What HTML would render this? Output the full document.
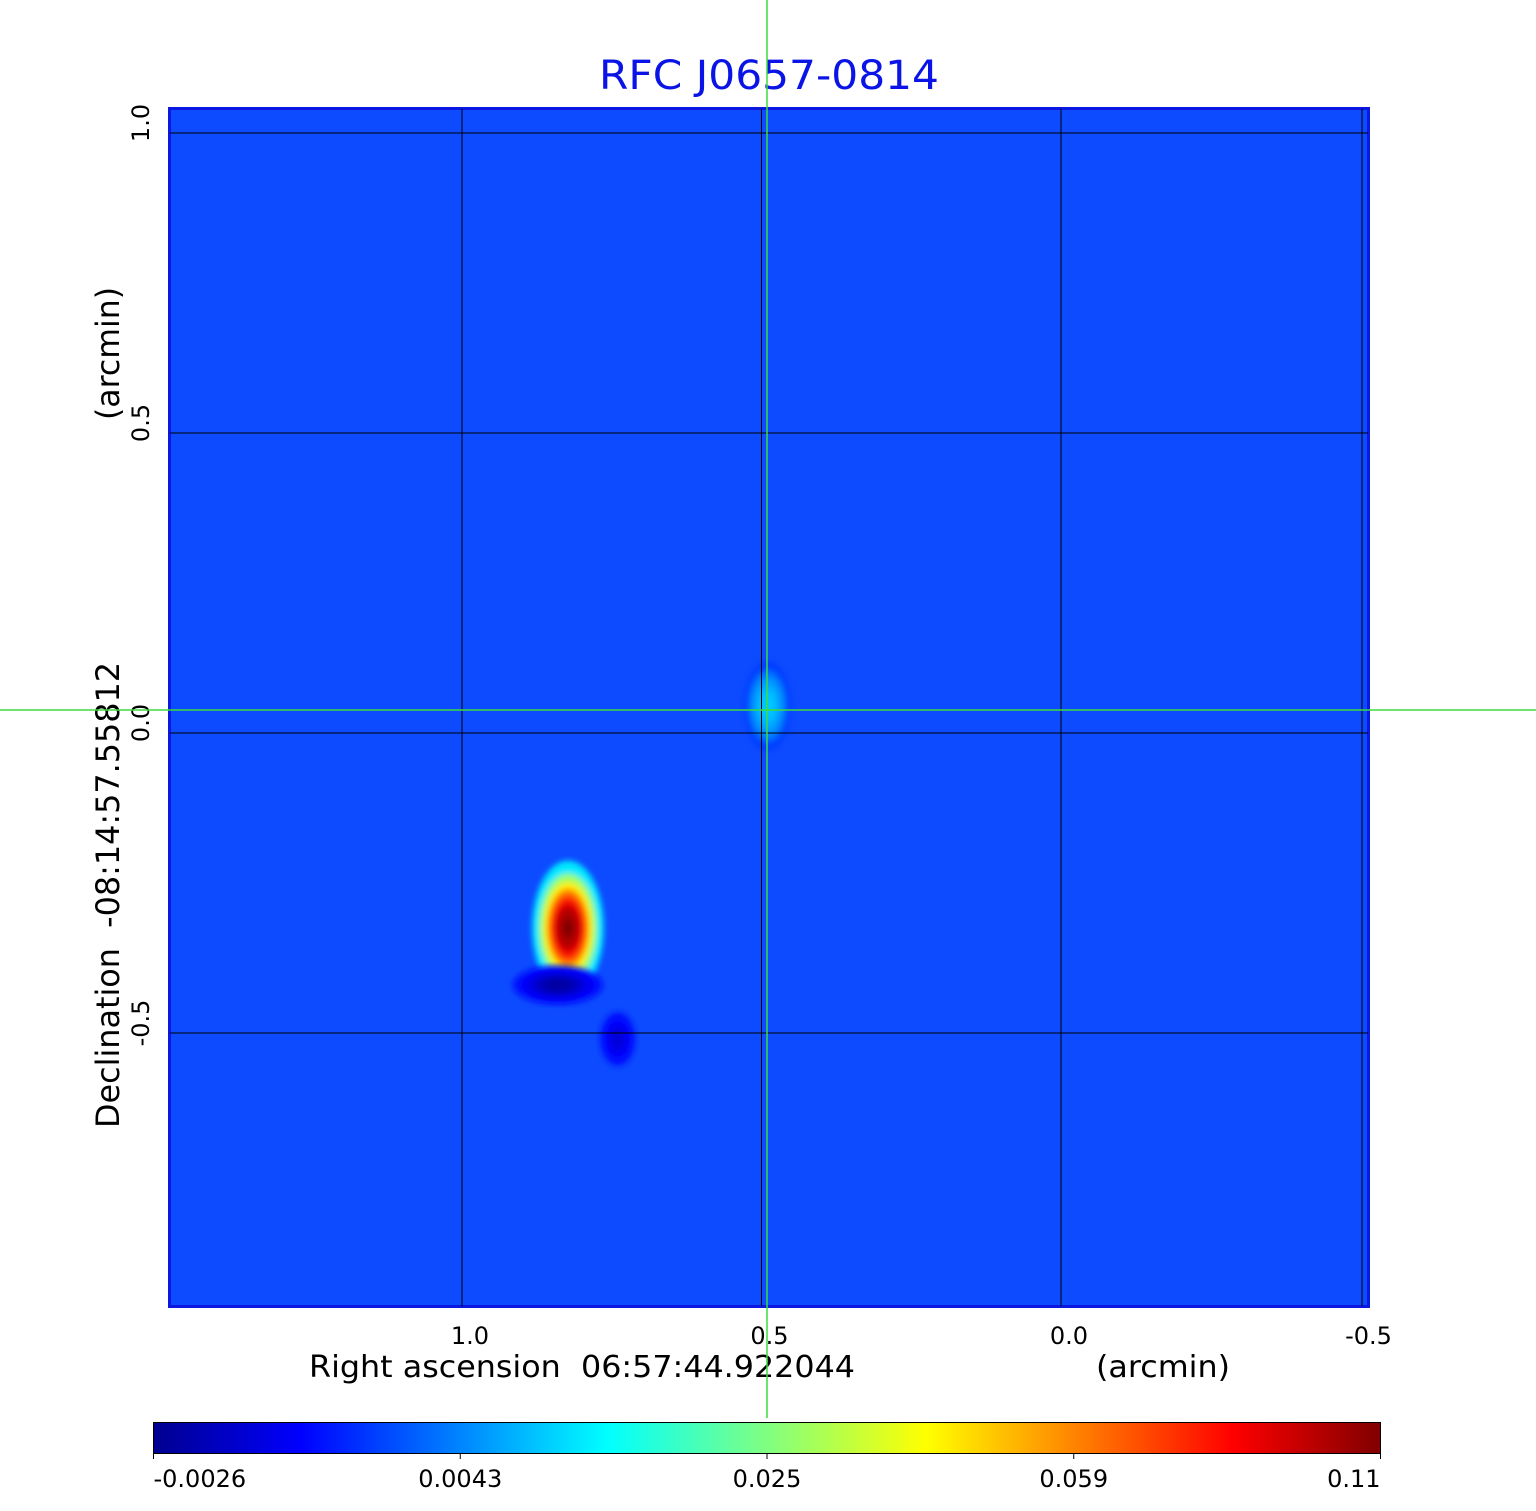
<!DOCTYPE html>
<html><head><meta charset="utf-8"><style>
html,body{margin:0;padding:0;background:#fff;}
svg{display:block;font-family:"DejaVu Sans","Liberation Sans",sans-serif;}
text{white-space:pre;}
</style></head><body>
<svg id="chart" width="1536" height="1511" viewBox="0 0 1536 1511" xmlns="http://www.w3.org/2000/svg" xml:space="preserve">
<defs>
<linearGradient id="jet" x1="0" x2="1" y1="0" y2="0">
<stop offset="0" stop-color="#00008f"/>
<stop offset="0.12" stop-color="#0000ff"/>
<stop offset="0.37" stop-color="#00ffff"/>
<stop offset="0.5" stop-color="#80ff80"/>
<stop offset="0.63" stop-color="#ffff00"/>
<stop offset="0.88" stop-color="#ff0000"/>
<stop offset="1" stop-color="#800000"/>
</linearGradient>
<clipPath id="plotclip"><rect x="170" y="109" width="1198" height="1197"/></clipPath>
<filter id="blur"><feGaussianBlur stdDeviation="3"/></filter>
</defs>
<text x="769" y="89" text-anchor="middle" font-size="40" fill="#0a14e6" textLength="340" lengthAdjust="spacingAndGlyphs">RFC J0657-0814</text>
<rect x="169.5" y="108.5" width="1199" height="1198" fill="#0c4bff" stroke="#0a18e0" stroke-width="3"/>
<g id="marks" clip-path="url(#plotclip)"></g>
<g id="grid"></g>
<g id="ticks"></g>
<text x="309" y="1377" font-size="30" textLength="546" lengthAdjust="spacingAndGlyphs">Right ascension  06:57:44.922044</text>
<text x="1096" y="1377" font-size="30" textLength="134" lengthAdjust="spacingAndGlyphs">(arcmin)</text>
<text transform="translate(119,1128) rotate(-90)" font-size="32" textLength="466" lengthAdjust="spacingAndGlyphs">Declination  -08:14:57.55812</text>
<text transform="translate(119,420) rotate(-90)" font-size="32" textLength="133" lengthAdjust="spacingAndGlyphs">(arcmin)</text>
<rect x="153.5" y="1422.5" width="1227" height="31" fill="url(#jet)" stroke="#000" stroke-width="1"/>
<g id="cbticks"></g>
<line x1="767" y1="0" x2="767" y2="1418" stroke="#3ddc3d" stroke-width="1.5"/>
<line x1="0" y1="710" x2="1536" y2="710" stroke="#3ddc3d" stroke-width="1.5"/>
</svg>
<script>
const xTicks = [1.0, 0.5, 0.0, -0.5];
const xTickLabels = ["1.0", "0.5", "0.0", "-0.5"];
const yTicks = [1.0, 0.5, 0.0, -0.5];
const yTickLabels = ["1.0", "0.5", "0.0", "-0.5"];
const cbTicks = [-0.0026, 0.0043, 0.025, 0.059, 0.11];
const cbTickLabels = ["-0.0026", "0.0043", "0.025", "0.059", "0.11"];
const srcRA = [0.823, 0.49, 0.84, 0.74];
const srcDec = [-0.325, 0.045, -0.42, -0.51];
const srcPeak = [0.11, 0.010, -0.0022, -0.0005];
const srcSigRA = [0.024, 0.016, 0.03, 0.012];
const srcSigDec = [0.045, 0.03, 0.013, 0.018];

const NS = "http://www.w3.org/2000/svg";
function xScale(ra){ return 1061 + (0 - ra) * 599; }
function yScale(d){ return 733 - d * 600; }
function cbPos(v){
  for (let i = 0; i < cbTicks.length - 1; i++) {
    if (v <= cbTicks[i+1] || i === cbTicks.length - 2) {
      const t = (v - cbTicks[i]) / (cbTicks[i+1] - cbTicks[i]);
      return Math.max(0, Math.min(1, (i + t) / (cbTicks.length - 1)));
    }
  }
  return 0;
}
const jetStops = [[0,[0,0,143]],[0.12,[0,0,255]],[0.37,[0,255,255]],[0.5,[128,255,128]],[0.63,[255,255,0]],[0.88,[255,0,0]],[1,[128,0,0]]];
function jet(p){
  for (let i = 0; i < jetStops.length - 1; i++) {
    const a = jetStops[i], b = jetStops[i+1];
    if (p <= b[0]) {
      const t = (p - a[0]) / (b[0] - a[0]);
      return "rgb(" + a[1].map((c,k)=>Math.round(c + (b[1][k]-c)*t)).join(",") + ")";
    }
  }
  return "rgb(128,0,0)";
}
function mk(tag, attrs, parent){
  const el = document.createElementNS(NS, tag);
  for (const k in attrs) el.setAttribute(k, attrs[k]);
  parent.appendChild(el);
  return el;
}
const bg = 0.0015;
const marks = document.getElementById("marks");
const fracs = [0.1, 0.25, 0.4, 0.55, 0.7, 0.82, 0.92, 1.0];
srcRA.forEach((ra, i) => {
  const g = mk("g", {filter: "url(#blur)"}, marks);
  
  
  const cx = xScale(ra), cy = yScale(srcDec[i]);
  const sx = srcSigRA[i] * 599, sy = srcSigDec[i] * 600;
  fracs.forEach(f => {
    const r = Math.sqrt(-2 * Math.log(f)) + 0.35;
    const v = bg + (srcPeak[i] - bg) * f;
    const e = mk("ellipse", {cx: cx, cy: cy, rx: sx * r, ry: sy * r, fill: jet(cbPos(v))}, g);
    
    
  });
});
const grid = document.getElementById("grid");
const ticks = document.getElementById("ticks");
xTicks.forEach((t, i) => {
  let x = xScale(t);
  if (t === -0.5) x = 1362;
  const l = mk("line", {x1: x, y1: 109, x2: x, y2: 1306, stroke: "#000", "stroke-width": 1}, grid);
  
  
  const tx = mk("text", {x: xScale(t) + 8, y: 1344, "text-anchor": "middle", "font-size": 24}, ticks);
  tx.textContent = xTickLabels[i];
  
  
});
yTicks.forEach((t, i) => {
  const y = yScale(t);
  const l = mk("line", {x1: 170, y1: y, x2: 1368, y2: y, stroke: "#000", "stroke-width": 1}, grid);
  
  
  const tx = mk("text", {transform: "translate(149," + (y - 10) + ") rotate(-90)", "text-anchor": "middle", "font-size": 24}, ticks);
  tx.textContent = yTickLabels[i];
  
  
});
const cbt = document.getElementById("cbticks");
cbTicks.forEach((v, i) => {
  const x = 153.5 + cbPos(v) * 1227;
  const l = mk("line", {x1: x, y1: 1453, x2: x, y2: 1459, stroke: "#000", "stroke-width": 1}, cbt);
  
  
  const anchor = i === 0 ? "start" : (i === cbTicks.length - 1 ? "end" : "middle");
  const tx = mk("text", {x: x, y: 1487, "text-anchor": anchor, "font-size": 24}, cbt);
  tx.textContent = cbTickLabels[i];
  
  
});
</script>
</body></html>
